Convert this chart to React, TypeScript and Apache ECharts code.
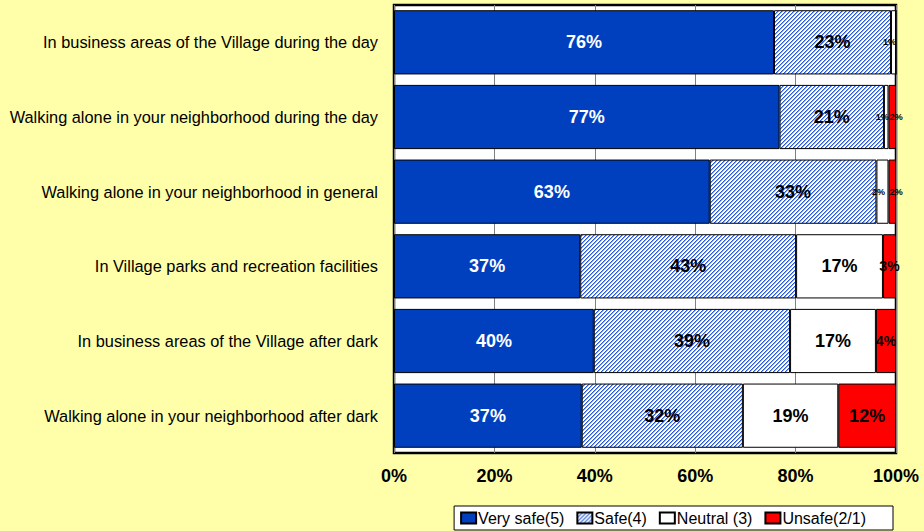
import React, { useEffect, useRef } from 'react';
import * as echarts from 'echarts';

const categories = [
  'In business areas of the Village during the day',
  'Walking alone in your neighborhood during the day',
  'Walking alone in your neighborhood in general',
  'In Village parks and recreation facilities',
  'In business areas of the Village after dark',
  'Walking alone in your neighborhood after dark',
];
const verySafe = [75.7, 76.8, 62.9, 37.1, 39.8, 37.4];
const safe = [23.3, 20.8, 33.2, 43.0, 39.1, 32.1];
const neutral = [1.0, 0.9, 2.4, 17.3, 17.1, 19.0];
const unsafe = [0, 1.5, 1.5, 2.6, 4.0, 11.5];
const seriesNames = ['Very safe(5)', 'Safe(4)', 'Neutral (3)', 'Unsafe(2/1)'];
const xTicks = [0, 20, 40, 60, 80, 100];

function makeHatch(): HTMLCanvasElement {
  const c = document.createElement('canvas');
  c.width = 4;
  c.height = 4;
  const ctx = c.getContext('2d')!;
  const img = ctx.createImageData(4, 4);
  for (let y = 0; y < 4; y++) {
    for (let x = 0; x < 4; x++) {
      const k = (x + y) % 4;
      const col = k === 0 ? [40, 90, 210] : k === 1 ? [140, 170, 235] : [255, 255, 255];
      const i = (y * 4 + x) * 4;
      img.data[i] = col[0];
      img.data[i + 1] = col[1];
      img.data[i + 2] = col[2];
      img.data[i + 3] = 255;
    }
  }
  ctx.putImageData(img, 0, 0);
  return c;
}

// small labels: shrink and nudge apart (neutral left, unsafe right)
function sized(vals: number[], shift: number) {
  return vals.map((v) => ({
    value: v,
    label:
      v >= 5
        ? { fontSize: 18 }
        : v >= 2.5
        ? { fontSize: 14 }
        : { fontSize: 9, offset: [shift, 0] },
  }));
}

export default function App() {
  const ref = useRef<HTMLDivElement>(null);
  useEffect(() => {
    if (!ref.current) return;
    const chart = echarts.init(ref.current, null, { renderer: 'svg' });
    const hatch = makeHatch();
    const fmt = (p: any) => (p.value > 0 ? Math.round(p.value) + '%' : '');
    const colors: any[] = [
      '#0040BF',
      { image: hatch, repeat: 'repeat', imageWidth: 4, imageHeight: 4 },
      '#FFFFFF',
      '#FF0000',
    ];
    const values = [verySafe, safe, neutral, unsafe];
    const shifts = [0, 0, -4, 4];
    chart.setOption({
      animation: false,
      backgroundColor: '#FFFFAA',
      textStyle: { fontFamily: 'Arial, Liberation Sans, sans-serif' },
      grid: {
        show: true,
        left: 394,
        right: 28,
        top: 5,
        bottom: 78,
        borderColor: '#000',
        borderWidth: 2.5,
        backgroundColor: '#FFFFFF',
        containLabel: false,
      },
      legend: {
        data: seriesNames,
        right: 31,
        top: 506,
        backgroundColor: '#FFFFFF',
        borderColor: '#000',
        borderWidth: 1,
        borderRadius: 0,
        padding: [4, 27, 4, 6],
        itemGap: 12,
        itemWidth: 15,
        itemHeight: 11,
        icon: 'rect',
        textStyle: {
          fontSize: 16,
          color: '#000',
          fontFamily: 'Arial, Liberation Sans, sans-serif',
          padding: [0, 0, 0, -3],
        },
      },
      xAxis: {
        type: 'value',
        min: xTicks[0],
        max: xTicks[xTicks.length - 1],
        interval: 20,
        axisLine: { show: false },
        axisTick: { show: false },
        splitLine: { show: true, lineStyle: { color: '#808080', width: 1 } },
        axisLabel: {
          formatter: '{value}%',
          fontSize: 18,
          fontWeight: 'bold',
          color: '#000',
          margin: 14,
        },
      },
      yAxis: {
        type: 'category',
        data: categories,
        inverse: true,
        axisLine: { show: false },
        axisTick: { show: false },
        axisLabel: { fontSize: 16.35, color: '#000', margin: 16 },
      },
      series: seriesNames.map((name, i) => ({
        name,
        type: 'bar',
        stack: 'total',
        barCategoryGap: '14%',
        data: sized(values[i], shifts[i]),
        itemStyle: { color: colors[i], borderColor: '#000', borderWidth: 1 },
        label: {
          show: true,
          position: 'inside',
          formatter: fmt,
          fontWeight: 'bold',
          color: i === 0 ? '#FFFFFF' : '#000000',
          fontFamily: 'Arial, Liberation Sans, sans-serif',
        },
      })),
    });
    return () => chart.dispose();
  }, []);
  return (
    <div
      ref={ref}
      style={{ position: 'fixed', left: 0, top: 0, width: 924, height: 531 }}
    />
  );
}
